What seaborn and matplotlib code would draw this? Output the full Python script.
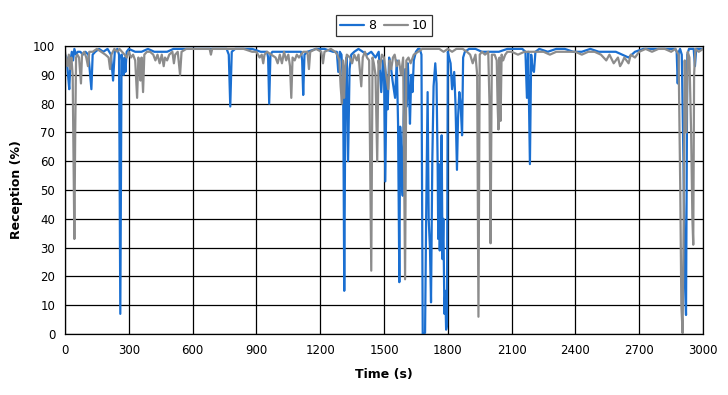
import pandas as pd
import matplotlib
matplotlib.use("Agg")
import matplotlib.pyplot as plt
import seaborn as sns

# Reception (%) over time for the two settings
series_8 = [
    (0, 97), (8, 96), (14, 90), (20, 85), (26, 95), (32, 98), (38, 95), (44, 99), (52, 97), (60, 98),
    (72, 98), (84, 97), (96, 98), (110, 97), (118, 90), (124, 85), (130, 97), (142, 98), (160, 99),
    (180, 98), (200, 99), (216, 97), (226, 88), (234, 98), (246, 99), (254, 97), (260, 7), (266, 97),
    (272, 92), (276, 90), (280, 96), (284, 91), (290, 98), (300, 99), (330, 98), (360, 98), (390, 99),
    (420, 98), (450, 98), (480, 98), (510, 99), (540, 99), (570, 99), (600, 99), (640, 99), (680, 99),
    (720, 99), (760, 99), (770, 97), (777, 79), (784, 98), (800, 99), (840, 99), (880, 99), (920, 98),
    (950, 98), (955, 96), (960, 80), (966, 97), (975, 98), (1000, 98), (1040, 98), (1080, 98),
    (1110, 98), (1115, 95), (1120, 83), (1126, 97), (1140, 98), (1180, 99), (1220, 99), (1260, 98),
    (1278, 98), (1285, 91), (1292, 98), (1300, 97), (1308, 85), (1313, 15), (1318, 80), (1324, 96),
    (1331, 60), (1338, 92), (1346, 97), (1360, 98), (1380, 99), (1400, 98), (1420, 97), (1440, 98),
    (1460, 96), (1475, 98), (1487, 84), (1495, 95), (1500, 92), (1506, 53), (1512, 90), (1517, 78),
    (1524, 96), (1532, 93), (1540, 88), (1552, 82), (1560, 95), (1566, 73), (1572, 18), (1576, 72),
    (1580, 65), (1584, 52), (1588, 48), (1592, 75), (1600, 92), (1607, 79), (1612, 94), (1617, 85),
    (1622, 73), (1628, 90), (1634, 84), (1640, 95), (1650, 98), (1660, 99), (1668, 99), (1676, 97),
    (1682, 0), (1688, 0), (1693, 0.5), (1698, 40), (1705, 84), (1710, 40), (1716, 30), (1721, 11),
    (1727, 60), (1733, 86), (1741, 94), (1747, 87), (1752, 60), (1755, 33), (1758, 59), (1762, 29),
    (1766, 45), (1771, 69), (1775, 26), (1779, 40), (1784, 7), (1788, 15), (1792, 1.5), (1796, 3),
    (1800, 98), (1806, 96), (1813, 94), (1820, 85), (1830, 91), (1836, 80), (1843, 57), (1848, 75),
    (1854, 84), (1860, 80), (1867, 69), (1872, 96), (1880, 98), (1900, 99), (1930, 99), (1960, 98),
    (2000, 98), (2040, 98), (2080, 99), (2120, 99), (2150, 99), (2165, 98), (2172, 82), (2178, 98),
    (2186, 59), (2192, 97), (2198, 92), (2205, 91), (2212, 98), (2230, 99), (2270, 98), (2310, 99),
    (2350, 99), (2390, 98), (2430, 98), (2470, 99), (2510, 98), (2550, 98), (2590, 98), (2620, 97),
    (2650, 96), (2680, 98), (2720, 99), (2760, 99), (2800, 99), (2840, 99), (2870, 99), (2876, 98),
    (2881, 87), (2886, 98), (2892, 99), (2900, 97), (2908, 60), (2914, 20), (2920, 6.6), (2926, 97),
    (2934, 99), (2945, 99), (2956, 99), (2962, 93), (2968, 99), (2980, 99), (3000, 99),
]

series_10 = [
    (0, 98), (6, 95), (12, 93), (18, 97), (24, 92), (30, 96), (36, 90), (40, 60), (44, 33), (48, 70),
    (52, 96), (58, 97), (66, 96), (75, 87), (80, 97), (90, 98), (100, 96), (108, 93), (114, 98),
    (130, 98), (150, 99), (170, 98), (190, 97), (205, 96), (212, 92), (218, 97), (232, 99), (246, 98),
    (256, 99), (268, 98), (280, 97), (290, 96), (300, 98), (310, 96), (320, 97), (330, 95), (339, 82),
    (345, 96), (352, 94), (355, 88), (360, 96), (367, 84), (373, 97), (385, 98), (400, 98), (415, 97),
    (425, 95), (435, 97), (445, 94), (455, 97), (464, 93), (470, 96), (480, 95), (490, 97), (505, 98),
    (512, 94), (518, 97), (530, 98), (541, 90), (548, 98), (570, 99), (600, 99), (630, 99), (660, 99),
    (680, 99), (686, 97), (692, 99), (720, 99), (760, 99), (800, 99), (840, 99), (880, 98), (900, 98),
    (915, 96), (925, 97), (932, 94), (938, 97), (950, 98), (970, 97), (990, 96), (1000, 94),
    (1010, 97), (1020, 94), (1030, 98), (1040, 95), (1050, 97), (1058, 93), (1064, 82), (1070, 96),
    (1080, 95), (1090, 97), (1100, 96), (1120, 98), (1140, 98), (1147, 92), (1153, 98), (1180, 99),
    (1205, 98), (1213, 94), (1220, 98), (1250, 99), (1270, 98), (1280, 97), (1290, 95), (1296, 86),
    (1302, 80), (1307, 95), (1312, 82), (1318, 93), (1325, 97), (1340, 96), (1350, 94), (1360, 97),
    (1372, 95), (1380, 97), (1393, 86), (1400, 96), (1410, 98), (1420, 96), (1430, 95), (1440, 22),
    (1446, 96), (1452, 94), (1460, 90), (1468, 60), (1474, 95), (1480, 92), (1490, 97), (1500, 96),
    (1510, 90), (1520, 85), (1526, 95), (1534, 92), (1542, 96), (1550, 97), (1560, 93), (1570, 95),
    (1580, 90), (1590, 96), (1599, 19), (1605, 95), (1615, 96), (1625, 94), (1640, 97), (1660, 98),
    (1680, 99), (1700, 99), (1720, 99), (1740, 99), (1760, 99), (1780, 98), (1800, 99), (1820, 98),
    (1840, 99), (1870, 99), (1890, 98), (1905, 97), (1917, 94), (1930, 97), (1938, 90), (1944, 6),
    (1950, 97), (1960, 98), (1975, 97), (1990, 98), (1996, 80), (2001, 31.5), (2007, 97), (2020, 97),
    (2030, 95), (2034, 80), (2038, 71), (2043, 96), (2048, 74), (2053, 97), (2060, 95), (2070, 97),
    (2080, 98), (2100, 98), (2130, 97), (2160, 98), (2190, 98), (2220, 98), (2250, 98), (2280, 97),
    (2310, 98), (2340, 98), (2370, 98), (2400, 98), (2430, 97), (2460, 98), (2490, 98), (2520, 97),
    (2545, 95), (2560, 97), (2580, 94), (2600, 96), (2610, 93), (2618, 94), (2630, 96), (2640, 95),
    (2650, 94), (2660, 97), (2680, 96), (2700, 98), (2730, 99), (2760, 98), (2790, 99), (2820, 99),
    (2850, 98), (2870, 99), (2885, 97), (2893, 50), (2898, 10), (2904, 0.3), (2909, 40), (2914, 95),
    (2922, 70), (2928, 98), (2936, 96), (2944, 70), (2950, 40), (2954, 31), (2958, 90), (2964, 99),
    (2980, 98), (3000, 99),
]

x_ticks = list(range(0, 3001, 300))
y_ticks = list(range(0, 101, 10))

df8 = pd.DataFrame(series_8, columns=["Time", "Reception"])
df10 = pd.DataFrame(series_10, columns=["Time", "Reception"])

sns.set_style("white")
plt.rcParams["font.family"] = ["DejaVu Sans"]
plt.rcParams["text.color"] = "black"
plt.rcParams["axes.labelcolor"] = "black"
plt.rcParams["xtick.color"] = "black"
plt.rcParams["ytick.color"] = "black"

fig = plt.figure(figsize=(7.28, 3.95), dpi=100)
ax = fig.add_axes([0.0893, 0.1544, 0.8764, 0.7291])

sns.lineplot(data=df8, x="Time", y="Reception", ax=ax, color="#1a6fd1",
             linewidth=1.6, estimator=None, sort=False, label="8")
sns.lineplot(data=df10, x="Time", y="Reception", ax=ax, color="#8c8c8c",
             linewidth=1.6, estimator=None, sort=False, label="10")

ax.set_xlim(0, 3000)
ax.set_ylim(0, 100)
ax.set_xticks(x_ticks)
ax.set_yticks(y_ticks)
ax.grid(True, color="black", linewidth=0.9)
ax.set_axisbelow(True)
for s in ax.spines.values():
    s.set_color("black")
    s.set_linewidth(0.9)
ax.tick_params(axis="both", direction="out", length=4, width=0.9, colors="black",
               labelsize=8.5, pad=3)

ax.set_xlabel("Time (s)", fontsize=9, fontweight="bold", labelpad=8, color="black")
ax.set_ylabel("Reception (%)", fontsize=9, fontweight="bold", labelpad=7, color="black")

leg = ax.legend(loc="lower center", bbox_to_anchor=(0.5, 1.035), ncol=2, fontsize=9,
                frameon=True, fancybox=False, handlelength=1.9, handletextpad=0.3,
                columnspacing=0.7, borderpad=0.3, borderaxespad=0)
leg.get_frame().set_edgecolor("black")
leg.get_frame().set_linewidth(0.9)
for txt in leg.get_texts():
    txt.set_color("black")

fig.savefig("out.png", dpi=100)
